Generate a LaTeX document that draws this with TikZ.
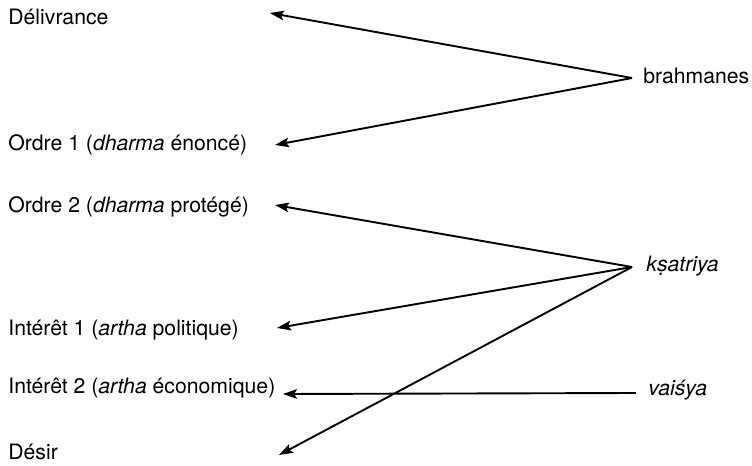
\documentclass[tikz,border=0pt]{standalone}
\usepackage{fontspec}
\setmainfont{TeX Gyre Heros}
\usetikzlibrary{arrows.meta}
\begin{document}
\begin{tikzpicture}[x=0.5pt,y=-0.5pt,
  lab/.style={anchor=west,inner sep=0pt,font=\fontsize{10.6}{12}\selectfont},
  arr/.style={line width=0.95pt,-{Stealth[length=7pt,width=4.8pt,inset=1.4pt]}}]
\useasboundingbox (0,0) rectangle (752,466);
% left labels
\node[lab] (deliv) at (8,17) {Délivrance};
\node[lab] (ordre1) at (8,145) {Ordre 1 (\textit{dharma} énoncé)};
\node[lab] (ordre2) at (8,207) {Ordre 2 (\textit{dharma} protégé)};
\node[lab] (inter1) at (8,330) {Intérêt 1 (\textit{artha} politique)};
\node[lab] (inter2) at (8,388) {Intérêt 2 (\textit{artha} économique)};
\node[lab] (desir) at (8,452) {Désir};
% right labels
\node[lab] (brah) at (643,76) {brahmanes};
\node[lab] (ksat) at (646,266) {\textit{kṣatriya}};
\node[lab] (vais) at (648,390) {\textit{vaiśya}};
% connection points
\coordinate (pb) at (632,78);
\coordinate (pk) at (632,267);
\coordinate (pv) at (636,393);
\coordinate (tdeliv) at (270,13);
\coordinate (tordre1) at (275,145);
\coordinate (tordre2) at (275,205);
\coordinate (tinter1) at (277,328);
\coordinate (tinter2) at (283,394);
\coordinate (tdesir) at (279,455);
% arrows
\draw[arr] (pb) -- (tdeliv);
\draw[arr] (pb) -- (tordre1);
\draw[arr] (pk) -- (tordre2);
\draw[arr] (pk) -- (tinter1);
\draw[arr] (pk) -- (tdesir);
\draw[arr] (pv) -- (tinter2);
\end{tikzpicture}
\end{document}
